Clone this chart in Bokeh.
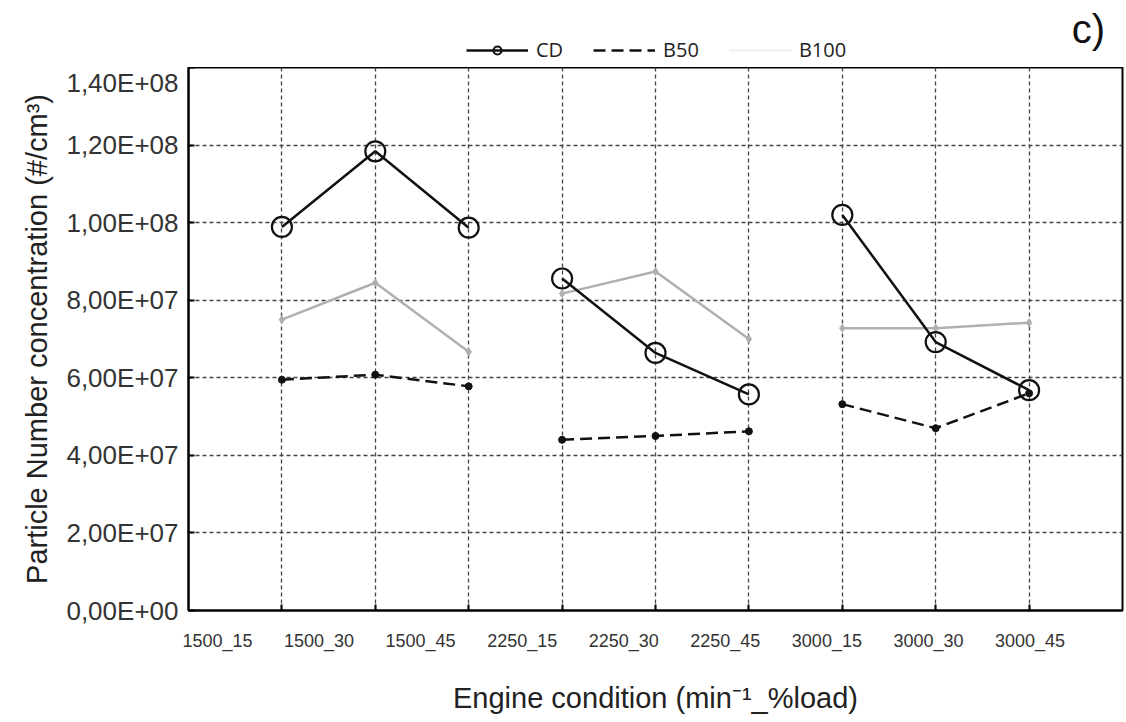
import numpy as np
from bokeh.plotting import figure
from bokeh.layouts import column
from bokeh.models import FixedTicker, LinearAxis, Legend, LegendItem, Range1d, Label
from bokeh.embed import file_html
from bokeh.resources import INLINE

# ---- data ----
conditions = ["1500_15", "1500_30", "1500_45", "2250_15", "2250_30", "2250_45",
              "3000_15", "3000_30", "3000_45"]
cd = [9.89e7, 1.184e8, 9.87e7, 8.56e7, 6.64e7, 5.57e7, 1.02e8, 6.92e7, 5.68e7]
b50 = [5.95e7, 6.08e7, 5.78e7, 4.40e7, 4.50e7, 4.62e7, 5.32e7, 4.70e7, 5.60e7]
b100 = [7.50e7, 8.45e7, 6.67e7, 8.17e7, 8.74e7, 7.00e7, 7.28e7, 7.28e7, 7.42e7]
series_names = ["CD", "B50", "B100"]
y_ticks = [0, 2e7, 4e7, 6e7, 8e7, 1e8, 1.2e8, 1.4e8]
y_tick_labels = ["0,00E+00", "2,00E+07", "4,00E+07", "6,00E+07", "8,00E+07",
                 "1,00E+08", "1,20E+08", "1,40E+08"]
groups = [(0, 3), (3, 6), (6, 9)]
panel_tag = "c)"

x = list(range(1, len(conditions) + 1))
# tick labels in the original sit offset from the gridlines
label_pos = list(np.linspace(0.31, 9.01, len(conditions)))

FONT = "Liberation Sans"
W = 1126
TOP_H = 67
BORDER_L = 188
BORDER_R = 4
FRAME_W = W - BORDER_L - BORDER_R

CD_STYLE = dict(line_color="#111111", line_width=2.5)
CD_MARK = dict(marker="circle", size=20, fill_color=None, line_color="#111111", line_width=2.2)
B50_STYLE = dict(line_color="#111111", line_width=2.5, line_dash="12 6")
B100_STYLE = dict(line_color="#b0b0b0", line_width=2.5)

# ---------- main plot ----------
p = figure(width=W, height=722 - TOP_H, output_backend="svg", toolbar_location=None,
           x_range=Range1d(0, 10), y_range=Range1d(0, 1.4e8),
           min_border_left=BORDER_L, min_border_right=BORDER_R, min_border_top=0,
           min_border_bottom=112)
p.background_fill_color = "white"
p.border_fill_color = "white"
p.outline_line_color = "black"
p.outline_line_width = 2

for g in (p.xgrid, p.ygrid):
    g.grid_line_color = "#444444"
    g.grid_line_dash = "4 3"
    g.grid_line_width = 1.3

# x axis with inner ticks (labels blank)
xa = p.xaxis[0]
xa.ticker = FixedTicker(ticks=x)
xa.major_label_overrides = {float(v): "" for v in x}
xa.major_tick_in = 6
xa.major_tick_out = 0
xa.minor_tick_line_color = None
xa.major_label_text_font_size = "2px"
xa.major_label_standoff = 0
xa.axis_line_width = 2
xa.major_tick_line_width = 2

# label axis
la = LinearAxis(ticker=FixedTicker(ticks=label_pos),
                major_label_overrides={float(pos): lab for pos, lab in zip(label_pos, conditions)})
la.axis_line_color = None
la.major_tick_line_color = None
la.minor_tick_line_color = None
la.major_label_standoff = 14
la.major_label_text_font = FONT
la.major_label_text_font_size = "18px"
la.major_label_text_color = "#333333"
la.axis_label = "Engine condition (min\u207b\u00b9_%load)"
la.axis_label_text_font = FONT
la.axis_label_text_font_size = "29px"
la.axis_label_text_font_style = "normal"
la.axis_label_text_color = "#222222"
la.axis_label_standoff = 28
p.add_layout(la, "below")

ya = p.yaxis[0]
ya.ticker = FixedTicker(ticks=y_ticks)
ya.major_label_overrides = {float(t): s for t, s in zip(y_ticks, y_tick_labels)}
ya.major_tick_in = 6
ya.major_tick_out = 0
ya.minor_tick_line_color = None
ya.major_label_standoff = 10
ya.major_label_text_font = FONT
ya.major_label_text_font_size = "26px"
ya.major_label_text_color = "#333333"
ya.axis_line_width = 2
ya.major_tick_line_width = 2
ya.axis_label = "Particle Number concentration (#/cm\u00b3)"
ya.axis_label_text_font = FONT
ya.axis_label_text_font_size = "29px"
ya.axis_label_text_font_style = "normal"
ya.axis_label_text_color = "#222222"
ya.axis_label_standoff = 10

for a, b in groups:
    xs = x[a:b]
    p.line(xs, b100[a:b], **B100_STYLE)
    p.scatter(xs, b100[a:b], marker="diamond", size=8, color="#b0b0b0")
    p.line(xs, b50[a:b], **B50_STYLE)
    p.scatter(xs, b50[a:b], marker="circle", size=7, color="#111111")
    p.line(xs, cd[a:b], **CD_STYLE)
    p.scatter(xs, cd[a:b], **CD_MARK)

# ---------- header strip: legend and panel tag ----------
# (its frame is aligned with the main plot's frame by the column layout)
top = figure(width=W, height=TOP_H, output_backend="svg", toolbar_location=None,
             x_range=Range1d(0, FRAME_W), y_range=Range1d(0, TOP_H),
             x_axis_type=None, y_axis_type=None, min_border=0,
             min_border_left=BORDER_L, min_border_right=BORDER_R)
top.outline_line_color = None
top.xgrid.visible = False
top.ygrid.visible = False
top.border_fill_color = "white"

# legend proxies: the same series, lying outside this strip's ranges
lg_cd = [top.line(x, cd, **CD_STYLE), top.scatter(x, cd, **{**CD_MARK, "size": 14})]
lg_b50 = [top.line(x, b50, **B50_STYLE)]
lg_b100 = [top.line(x, b100, line_color="#f2f2f2", line_width=2.5)]

legend = Legend(items=[LegendItem(label=series_names[0], renderers=lg_cd),
                       LegendItem(label=series_names[1], renderers=lg_b50),
                       LegendItem(label=series_names[2], renderers=lg_b100)],
                orientation="horizontal", location=(278, 4))
legend.glyph_width = 62
legend.glyph_height = 20
legend.label_standoff = 8
legend.spacing = 30
legend.padding = 0
legend.margin = 0
legend.border_line_color = None
legend.background_fill_alpha = 0
legend.label_text_font = "Open Sans"
legend.label_text_font_size = "20px"
legend.label_text_color = "#222222"
top.add_layout(legend, "center")

top.add_layout(Label(x=900, y=TOP_H - 28, text=panel_tag, text_font=FONT, text_font_size="40px",
                     text_align="center", text_baseline="middle", text_color="#111111"))

layout = column(top, p, spacing=0)
open("out.html", "w").write(file_html(layout, INLINE))
